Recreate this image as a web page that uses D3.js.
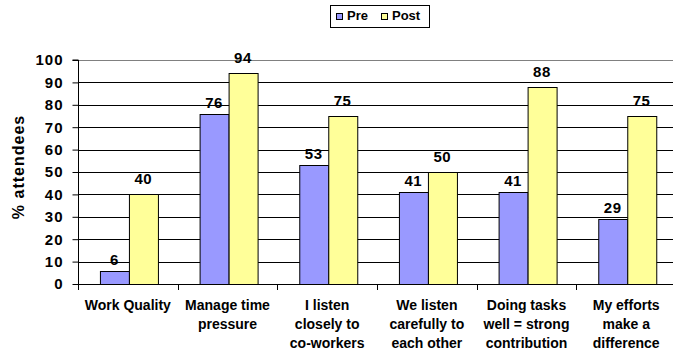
<!DOCTYPE html>
<html>
<head>
<meta charset="utf-8">
<script src="https://cdn.jsdelivr.net/npm/d3@7"></script>
<style>
  html, body { margin: 0; padding: 0; background: #fff; }
  svg { display: block; font-family: Arial, "Liberation Sans", sans-serif; font-weight: bold; }
</style>
</head>
<body>
<svg id="chart" width="673" height="353"></svg>
<script>
// Survey items (each label split into its printed lines)
const categories = [
  ["Work Quality"],
  ["Manage time", "pressure"],
  ["I listen", "closely to", "co-workers"],
  ["We listen", "carefully to", "each other"],
  ["Doing tasks", "well = strong", "contribution"],
  ["My efforts", "make a", "difference"]
];
const seriesNames = ["Pre", "Post"];
const preValues  = [6, 76, 53, 41, 41, 29];
const postValues = [40, 94, 75, 50, 88, 75];
const yTicks = [0, 10, 20, 30, 40, 50, 60, 70, 80, 90, 100];
const yTitle = "% attendees";

const colors = { Pre: "#9999FF", Post: "#FFFF99" };
const series = { Pre: preValues, Post: postValues };

const svg = d3.select("#chart");
const W = 673;
const plot = { left: 78, right: 676, top: 60, bottom: 284 };

const x = d3.scaleBand()
  .domain(d3.range(categories.length))
  .range([plot.left + 1, plot.right + 1])
  .paddingInner(0.42)
  .paddingOuter(0.21);
const xs = d3.scaleBand().domain(seriesNames).range([0, x.bandwidth()]);
const y = d3.scaleLinear().domain([0, 100]).range([plot.bottom, plot.top]);
const step = (plot.right - plot.left) / categories.length;

// horizontal gridlines
svg.append("g").selectAll("line")
  .data(yTicks.filter(t => t > 0 && t < 100))
  .join("line")
  .attr("x1", plot.left).attr("x2", W)
  .attr("y1", d => Math.round(y(d)) + 0.5).attr("y2", d => Math.round(y(d)) + 0.5)
  .attr("stroke", "#000").attr("stroke-width", 1);

// plot-area top border
svg.append("line")
  .attr("x1", plot.left).attr("x2", W)
  .attr("y1", Math.round(y(100)) + 0.5).attr("y2", Math.round(y(100)) + 0.5)
  .attr("stroke", "#808080");

// bars
const groups = svg.append("g").selectAll("g")
  .data(categories.map((c, i) => i))
  .join("g")
  .attr("transform", i => `translate(${x(i)},0)`);

groups.selectAll("rect")
  .data(i => seriesNames.map(s => ({ s, v: series[s][i] })))
  .join("rect")
  .attr("x", d => Math.round(xs(d.s)) + 0.5)
  .attr("width", Math.round(xs.bandwidth()))
  .attr("y", d => Math.round(y(d.v)) + 0.5)
  .attr("height", d => Math.round(y(0)) - Math.round(y(d.v)))
  .attr("fill", d => colors[d.s])
  .attr("stroke", "#000").attr("stroke-width", 1);

// value labels
groups.selectAll("text")
  .data(i => seriesNames.map(s => ({ s, v: series[s][i] })))
  .join("text")
  .attr("x", d => xs(d.s) + xs.bandwidth() / 2)
  .attr("y", d => y(d.v) - (d.s === "Pre" ? 6 : 10))
  .attr("text-anchor", "middle")
  .attr("font-size", 15)
  .attr("letter-spacing", 0.5)
  .attr("fill", "#000")
  .text(d => d.v);

// y axis
const yAxis = d3.axisLeft(y).tickValues(yTicks).tickSize(6).tickPadding(9);
const ya = svg.append("g")
  .attr("transform", `translate(${plot.left + 0.5},0)`)
  .call(yAxis);
ya.select(".domain").attr("d", `M-6,${y(100)}H0V${plot.bottom + 6}`).attr("stroke", "#000");
ya.selectAll(".tick line").attr("stroke", "#000");
ya.selectAll(".tick text")
  .attr("font-size", 15).attr("font-weight", "bold")
  .attr("font-family", "Arial, 'Liberation Sans', sans-serif")
  .attr("letter-spacing", 1)
  .attr("fill", "#000");

// x axis baseline and category ticks
svg.append("line")
  .attr("x1", plot.left).attr("x2", W)
  .attr("y1", Math.round(y(0)) + 0.5).attr("y2", Math.round(y(0)) + 0.5)
  .attr("stroke", "#000");
svg.append("g").selectAll("line")
  .data(d3.range(1, categories.length))
  .join("line")
  .attr("x1", i => Math.round(plot.left + i * step) + 0.5)
  .attr("x2", i => Math.round(plot.left + i * step) + 0.5)
  .attr("y1", plot.bottom).attr("y2", plot.bottom + 6)
  .attr("stroke", "#000");

// category labels
const xl = svg.append("g").selectAll("text")
  .data(categories)
  .join("text")
  .attr("text-anchor", "middle")
  .attr("font-size", 14)
  .attr("fill", "#000")
  .attr("transform", (d, i) => `translate(${plot.left + (i + 0.5) * step},310)`);
xl.selectAll("tspan")
  .data(d => d)
  .join("tspan")
  .attr("x", 0)
  .attr("y", (d, j) => j * 19)
  .text(d => d);

// y axis title
svg.append("text")
  .attr("transform", "translate(24,167) rotate(-90)")
  .attr("text-anchor", "middle")
  .attr("font-size", 16)
  .attr("letter-spacing", 1)
  .attr("fill", "#000")
  .text(yTitle);

// legend
const lg = svg.append("g");
lg.append("rect")
  .attr("x", 330.5).attr("y", 5.5).attr("width", 99).attr("height", 22)
  .attr("fill", "#fff").attr("stroke", "#000");
const legendX = { Pre: 336, Post: 381 };
seriesNames.forEach(s => {
  lg.append("rect")
    .attr("x", legendX[s] + 0.5).attr("y", 13.5).attr("width", 6).attr("height", 6)
    .attr("fill", colors[s]).attr("stroke", "#000");
  lg.append("text")
    .attr("x", legendX[s] + 11).attr("y", 20)
    .attr("font-size", 13)
    .attr("fill", "#000")
    .text(s);
});
</script>
</body>
</html>
